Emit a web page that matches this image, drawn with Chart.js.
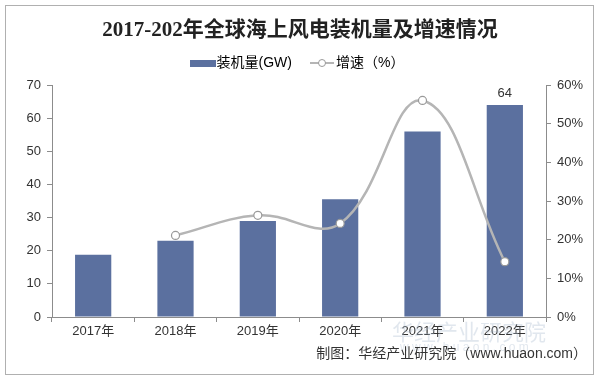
<!DOCTYPE html>
<html><head><meta charset="utf-8">
<script src="https://cdn.jsdelivr.net/npm/chart.js@4.4.1/dist/chart.umd.min.js"></script>
<style>html,body{margin:0;padding:0;background:#fff;}canvas{display:block;}</style>
</head><body>
<canvas id="c" width="600" height="379"></canvas>
<script>
const categories = ['2017年','2018年','2019年','2020年','2021年','2022年'];
const capacity = [18.8, 23, 29, 35.5, 56, 64];
const growth = [null, 21.1, 26.3, 24.2, 56, 14.3];
const leftTicks = [0,10,20,30,40,50,60,70];
const rightTicks = [0,10,20,30,40,50,60];
const titleText = '2017-202年全球海上风电装机量及增速情况';
const sourceText = '制图：华经产业研究院（www.huaon.com）';

const BAR = '#5b709f', LINE = '#b5b5b5', AXIS = '#8c8c8c', TXT = '#333';
const sans = '"Liberation Sans","Noto Sans CJK SC",sans-serif';

function swatchBar(){const c=document.createElement('canvas');c.width=26;c.height=7;const x=c.getContext('2d');x.fillStyle=BAR;x.fillRect(0,0,26,7);return c;}
function swatchLine(){const c=document.createElement('canvas');c.width=24;c.height=10;const x=c.getContext('2d');x.strokeStyle=LINE;x.lineWidth=2;x.beginPath();x.moveTo(0,5);x.lineTo(24,5);x.stroke();x.beginPath();x.arc(12,5,3.5,0,Math.PI*2);x.fillStyle='#fff';x.fill();x.strokeStyle='#999';x.lineWidth=1;x.stroke();return c;}

const deco = {
  id:'deco',
  beforeDraw(chart){const ctx=chart.ctx;ctx.save();ctx.fillStyle='#fff';ctx.fillRect(0,0,600,379);ctx.strokeStyle='#b0b0b0';ctx.lineWidth=1;ctx.strokeRect(5.5,5.5,588,369);ctx.restore();},
  afterDatasetsDraw(chart){
    const ctx=chart.ctx;ctx.save();
    // watermark
    ctx.fillStyle='rgba(170,185,205,0.35)';ctx.font='22px "Noto Sans CJK SC"';ctx.textAlign='left';ctx.textBaseline='middle';
    ctx.fillText('华经产业研究院',392,332);
    ctx.font='12px "Liberation Sans"';ctx.fillText('w w w . h u a o n . c o m',400,348);
    // data label on the last bar
    const meta=chart.getDatasetMeta(1);const el=meta.data[meta.data.length-1];
    ctx.fillStyle=TXT;ctx.font='13px '+sans;ctx.textAlign='center';ctx.textBaseline='bottom';
    ctx.fillText(String(capacity[capacity.length-1]),el.x,el.y-5);
    // source
    ctx.font='14px '+sans;ctx.textAlign='right';ctx.textBaseline='middle';ctx.fillStyle='#333';
    ctx.fillText(sourceText,587,354);
    ctx.restore();
  }
};

new Chart(document.getElementById('c'),{
  data:{labels:categories,datasets:[
    {type:'line',label:'增速（%）',data:growth,yAxisID:'y1',borderColor:LINE,borderWidth:2.5,tension:0.4,pointRadius:4,pointBackgroundColor:'#fff',pointBorderColor:'#999',pointBorderWidth:1.2,order:0,spanGaps:true},
    {type:'bar',label:'装机量(GW)',data:capacity,yAxisID:'y',backgroundColor:BAR,barPercentage:0.44,categoryPercentage:1,order:1}
  ]},
  options:{
    responsive:false,animation:false,
    layout:{padding:{left:0,right:0,top:0,bottom:0}},
    plugins:{
      tooltip:{enabled:false},
      title:{display:true,text:titleText,color:'#222',font:{family:'"Liberation Serif","Noto Sans CJK SC",serif',size:21,weight:'bold',lineHeight:1.0},padding:{top:20,bottom:-8}},
      subtitle:{display:true,text:' ',weight:500,font:{size:1,lineHeight:1},padding:{top:2,bottom:2}},
      legend:{display:true,labels:{usePointStyle:true,color:TXT,font:{family:sans,size:14},padding:23,
        generateLabels(){return [
          {text:'装机量(GW)',pointStyle:swatchBar(),fillStyle:BAR,strokeStyle:BAR,lineWidth:0,datasetIndex:1},
          {text:'增速（%）',pointStyle:swatchLine(),fillStyle:'#fff',strokeStyle:LINE,lineWidth:0,datasetIndex:0}
        ];}}}
    },
    scales:{
      x:{offset:true,grid:{display:true,drawOnChartArea:false,offset:true,tickLength:5,color:AXIS},border:{color:AXIS},
         ticks:{color:TXT,font:{family:sans,size:13},padding:2},afterFit(s){s.height=62;}},
      y:{position:'left',min:0,max:70,grid:{drawOnChartArea:false,tickLength:5,color:AXIS},border:{color:AXIS},
         afterBuildTicks(s){s.ticks=leftTicks.map(v=>({value:v}));},
         ticks:{color:TXT,font:{family:sans,size:13},padding:6},afterFit(s){s.width=52;}},
      y1:{position:'right',min:0,max:60,grid:{drawOnChartArea:false,tickLength:5,color:AXIS},border:{color:AXIS},
         afterBuildTicks(s){s.ticks=rightTicks.map(v=>({value:v}));},
         ticks:{color:TXT,font:{family:sans,size:13},padding:6,callback:v=>v+'%'},afterFit(s){s.width=54;}}
    }
  },
  plugins:[deco]
});
</script>
</body></html>
